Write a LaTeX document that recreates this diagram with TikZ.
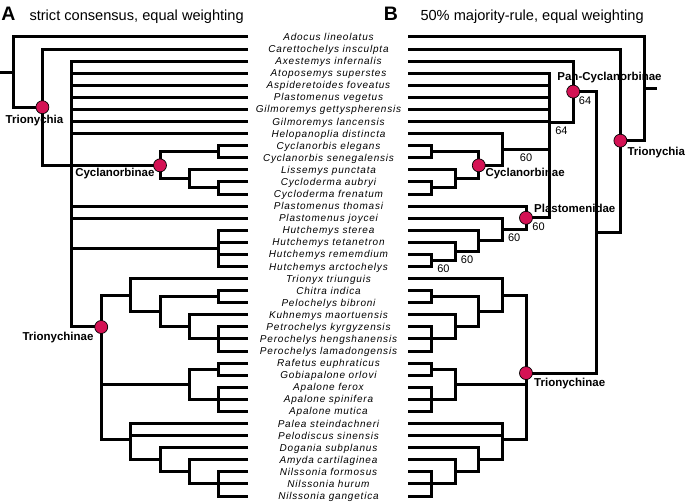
\documentclass[tikz,border=0pt]{standalone}
\usepackage{fontspec}
\setmainfont{Liberation Sans}
\newfontfamily\taxfont{Liberation Sans}[LetterSpace=8]
\definecolor{nodered}{RGB}{212,18,84}
\begin{document}
\begin{tikzpicture}[x=1pt,y=-1pt,line width=3pt,
  taxon/.style={inner sep=0pt,text height=7pt,text depth=0pt,font=\taxfont\itshape\fontsize{10}{12}\selectfont},
  clade/.style={inner sep=0pt,font=\bfseries\fontsize{11.5}{13}\selectfont},
  support/.style={inner sep=0pt,font=\fontsize{11}{13}\selectfont},
  circ/.style={circle,draw=black,line width=0.7pt,fill=nodered,minimum size=13pt,inner sep=0pt},
  head/.style={inner sep=0pt,anchor=base west,font=\fontsize{14.6}{17}\selectfont},
  panel/.style={inner sep=0pt,anchor=base,font=\bfseries\fontsize{19.5}{22}\selectfont}]
\useasboundingbox (0,0) rectangle (685,502);
% headers
\node[panel] (pA) at (8.5,20.5) {A};
\node[head] (hA) at (28,20.8) {strict consensus, equal weighting};
\node[panel] (pB) at (391,20.5) {B};
\node[head] (hB) at (419,20.8) {50\% majority-rule, equal weighting};
% tips
\foreach \i in {0,...,38} {
  \coordinate (a\i) at (248.2,{37+12.08*\i});
  \coordinate (b\i) at (408,{37+12.08*\i});
}
% taxon names
\foreach \i/\t in {0/Adocus lineolatus,1/Carettochelys insculpta,2/Axestemys infernalis,3/Atoposemys superstes,4/Aspideretoides foveatus,5/Plastomenus vegetus,6/Gilmoremys gettyspherensis,7/Gilmoremys lancensis,8/Helopanoplia distincta,9/Cyclanorbis elegans,10/Cyclanorbis senegalensis,11/Lissemys punctata,12/Cycloderma aubryi,13/Cycloderma frenatum,14/Plastomenus thomasi,15/Plastomenus joycei,16/Hutchemys sterea,17/Hutchemys tetanetron,18/Hutchemys rememdium,19/Hutchemys arctochelys,20/Trionyx triunguis,21/Chitra indica,22/Pelochelys bibroni,23/Kuhnemys maortuensis,24/Petrochelys kyrgyzensis,25/Perochelys hengshanensis,26/Perochelys lamadongensis,27/Rafetus euphraticus,28/Gobiapalone orlovi,29/Apalone ferox,30/Apalone spinifera,31/Apalone mutica,32/Palea steindachneri,33/Pelodiscus sinensis,34/Dogania subplanus,35/Amyda cartilaginea,36/Nilssonia formosus,37/Nilssonia hurum,38/Nilssonia gangetica}
  \node[taxon] (t\i) at (328.5,{37+12.08*\i}) {\t};
% ---------------- tree A ----------------
\coordinate (rA) at (13,72.1); \coordinate (rAs) at (0,72.1);
\coordinate (TrA) at (42.4,107.2);
\coordinate (PA) at (71.8,165.35);
\coordinate (CyA) at (160,165.35);
\coordinate (CyA1) at (218.8,151.76);
\coordinate (CyA2) at (189.4,178.94);
\coordinate (CdA) at (218.8,188);
\coordinate (HuA) at (218.8,248.4);
\coordinate (TiA) at (101.2,327);
\coordinate (T1A) at (130.6,295.21);
\coordinate (ChA) at (160,311.82);
\coordinate (CiA) at (218.8,296.72);
\coordinate (KuA) at (189.4,326.92);
\coordinate (PeA) at (218.8,339);
\coordinate (T2A) at (189.4,384.3);
\coordinate (RaA) at (218.8,369.2);
\coordinate (ApA) at (218.8,399.4);
\coordinate (T3A) at (130.6,439.67);
\coordinate (DoA) at (160,459.8);
\coordinate (AmA) at (189.4,471.88);
\coordinate (NiA) at (218.8,483.96);
\draw (rAs) -- (rA);
\draw (a0) -| (rA) |- (TrA);
\draw (a1) -| (TrA) |- (PA);
\draw (a2) -| (PA) |- (TiA);
\foreach \c in {a3,a4,a5,a6,a7,a8,CyA,a14,a15,HuA} \draw (PA |- \c) -- (\c);
\draw (CyA1) -| (CyA) |- (CyA2);
\draw (a9) -| (CyA1) |- (a10);
\draw (a11) -| (CyA2) |- (CdA);
\draw (a12) -| (CdA) |- (a13);
\draw (a16) -| (HuA) |- (a19);
\draw (HuA |- a17) -- (a17); \draw (HuA |- a18) -- (a18);
\draw (T1A) -| (TiA) |- (T3A); \draw (TiA |- T2A) -- (T2A);
\draw (a20) -| (T1A) |- (ChA);
\draw (CiA) -| (ChA) |- (KuA);
\draw (a21) -| (CiA) |- (a22);
\draw (a23) -| (KuA) |- (PeA);
\draw (a24) -| (PeA) |- (a26); \draw (PeA |- a25) -- (a25);
\draw (RaA) -| (T2A) |- (ApA);
\draw (a27) -| (RaA) |- (a28);
\draw (a29) -| (ApA) |- (a31); \draw (ApA |- a30) -- (a30);
\draw (a32) -| (T3A) |- (DoA); \draw (T3A |- a33) -- (a33);
\draw (a34) -| (DoA) |- (AmA);
\draw (a35) -| (AmA) |- (NiA);
\draw (a36) -| (NiA) |- (a38); \draw (NiA |- a37) -- (a37);
\node[circ] (cTrA) at (TrA) {};
\node[circ] (cCyA) at (CyA) {};
\node[circ] (cTiA) at (TiA) {};
\node[clade] (lTrA) at (34.5,120.7) {Trionychia};
\node[clade,anchor=east] (lCyA) at (156,173.5) {Cyclanorbinae};
\node[clade,anchor=east] (lTiA) at (95,338) {Trionychinae};
% ---------------- tree B ----------------
\coordinate (rB) at (644,88.85); \coordinate (rBs) at (657,88.85);
\coordinate (TrB) at (620.4,140.7);
\coordinate (PtB) at (596.8,232.33);
\coordinate (PcB) at (573.2,91.6);
\coordinate (XB) at (549.6,122.05);
\coordinate (HeB) at (502.4,149.5);
\coordinate (CyB) at (478.8,165.35);
\coordinate (CyB1) at (431.6,151.76);
\coordinate (CyB2) at (455.2,178.94);
\coordinate (CdB) at (431.6,188);
\coordinate (PlB) at (526,217.82);
\coordinate (JoB) at (502.4,229.53);
\coordinate (HuB) at (478.8,240.85);
\coordinate (TeB) at (455.2,251.42);
\coordinate (ReB) at (431.6,260.48);
\coordinate (TiB) at (526,373.06);
\coordinate (T1B) at (502.4,295.21);
\coordinate (ChB) at (478.8,311.82);
\coordinate (CiB) at (431.6,296.72);
\coordinate (KuB) at (455.2,326.92);
\coordinate (PeB) at (431.6,339);
\coordinate (T2B) at (455.2,384.3);
\coordinate (RaB) at (431.6,369.2);
\coordinate (ApB) at (431.6,399.4);
\coordinate (T3B) at (502.4,439.67);
\coordinate (DoB) at (478.8,459.8);
\coordinate (AmB) at (455.2,471.88);
\coordinate (NiB) at (431.6,483.96);
\draw (rBs) -- (rB);
\draw (b0) -| (rB) |- (TrB);
\draw (b1) -| (TrB) |- (PtB);
\draw (PcB) -| (PtB) |- (TiB);
\draw (b2) -| (PcB) |- (XB);
\draw (b3) -| (XB) |- (PlB);
\foreach \c in {b4,b5,b6,b7,HeB} \draw (XB |- \c) -- (\c);
\draw (b8) -| (HeB) |- (CyB);
\draw (CyB1) -| (CyB) |- (CyB2);
\draw (b9) -| (CyB1) |- (b10);
\draw (b11) -| (CyB2) |- (CdB);
\draw (b12) -| (CdB) |- (b13);
\draw (b14) -| (PlB) |- (JoB);
\draw (b15) -| (JoB) |- (HuB);
\draw (b16) -| (HuB) |- (TeB);
\draw (b17) -| (TeB) |- (ReB);
\draw (b18) -| (ReB) |- (b19);
\draw (T1B) -| (TiB) |- (T3B); \draw (TiB |- T2B) -- (T2B);
\draw (b20) -| (T1B) |- (ChB);
\draw (CiB) -| (ChB) |- (KuB);
\draw (b21) -| (CiB) |- (b22);
\draw (b23) -| (KuB) |- (PeB);
\draw (b24) -| (PeB) |- (b26); \draw (PeB |- b25) -- (b25);
\draw (RaB) -| (T2B) |- (ApB);
\draw (b27) -| (RaB) |- (b28);
\draw (b29) -| (ApB) |- (b31); \draw (ApB |- b30) -- (b30);
\draw (b32) -| (T3B) |- (DoB); \draw (T3B |- b33) -- (b33);
\draw (b34) -| (DoB) |- (AmB);
\draw (b35) -| (AmB) |- (NiB);
\draw (b36) -| (NiB) |- (b38); \draw (NiB |- b37) -- (b37);
\node[circ] (cPcB) at (PcB) {};
\node[circ] (cTrB) at (TrB) {};
\node[circ] (cCyB) at (CyB) {};
\node[circ] (cPlB) at (PlB) {};
\node[circ] (cTiB) at (TiB) {};
\node[clade] (lPcB) at (609.5,78) {Pan-Cyclanorbinae};
\node[clade,anchor=west] (lTrB) at (626,152.3) {Trionychia};
\node[clade,anchor=west] (lCyB) at (484,174) {Cyclanorbinae};
\node[clade,anchor=west] (lPlB) at (532.7,208.3) {Plastomenidae};
\node[clade,anchor=west] (lTiB) at (532.7,383.3) {Trionychinae};
% support values
\node[support] (s1) at (585,101) {64};
\node[support] (s2) at (561.4,130.8) {64};
\node[support] (s3) at (526,158) {60};
\node[support] (s4) at (538.5,226.5) {60};
\node[support] (s5) at (514.2,238) {60};
\node[support] (s6) at (467,260) {60};
\node[support] (s7) at (443.4,269) {60};
\end{tikzpicture}
\end{document}
